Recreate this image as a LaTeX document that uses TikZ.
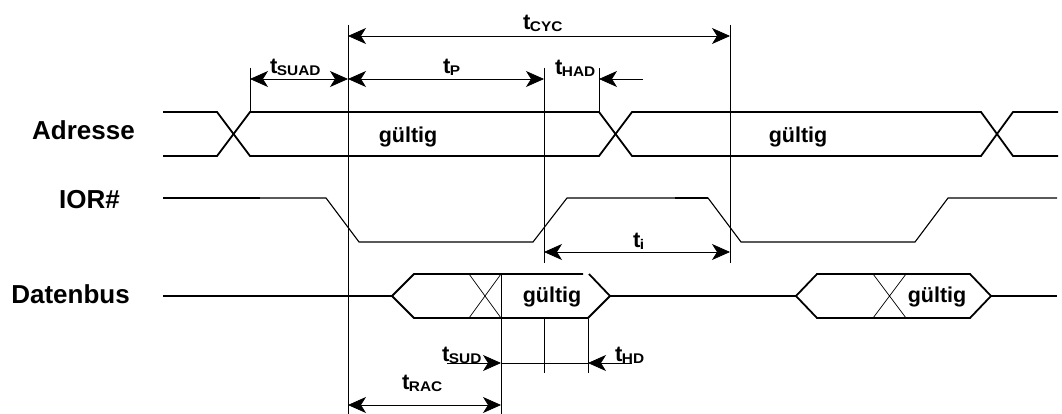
\documentclass[tikz,border=0pt]{standalone}
\usepackage{fontspec}
\setmainfont{Liberation Sans}
\usepackage{tikz}
\usetikzlibrary{arrows.meta,positioning}

\newcommand{\tsub}[1]{t\kern-0.6pt\raisebox{-2pt}{\fontsize{14}{14}\selectfont\scalebox{1.1}[1]{#1}}}

\begin{document}
\begin{tikzpicture}[x=1pt, y=-1pt]
	\tikzstyle{Bus}    = [line width=1.8pt]
	\tikzstyle{Strobe} = [line width=1.1pt]
	\tikzstyle{Thin}   = [line width=0.7pt]
	\tikzstyle{Dim}    = [line width=0.7pt, {Stealth[length=18pt, width=16pt, inset=5pt]}-{Stealth[length=18pt, width=16pt, inset=5pt]}]
	\tikzstyle{Half}   = [line width=0.7pt, -{Stealth[length=18pt, width=16pt, inset=5pt]}]
	\tikzstyle{Label}  = [anchor=base east, inner sep=0pt, font=\bfseries\fontsize{26}{30}\selectfont]
	\tikzstyle{Value}  = [anchor=base, inner sep=0pt, font=\bfseries\fontsize{21.5}{26}\selectfont]
	\tikzstyle{Time}   = [anchor=base west, inner sep=0pt, font=\bfseries\fontsize{22}{24}\selectfont]

	\useasboundingbox (0,0) rectangle (1062,414);

	% signal names
	\node (adr) at (135,140) [Label] {Adresse};
	\node (ior) at (120,208) [Label] {IOR\#};
	\node (dat) at (130,303) [Label] {Datenbus};

	% Adresse
	\draw [Bus] (163,112) -- (217,112) -- (250,156) -- (599,156) -- (632,112) -- (981,112) -- (1013,156) -- (1058,156);
	\draw [Bus] (163,156) -- (217,156) -- (250,112) -- (599,112) -- (632,156) -- (981,156) -- (1013,112) -- (1058,112);
	\node (adrA) at (408,143) [Value] {gültig};
	\node (adrB) at (798,143) [Value] {gültig};

	% IOR#
	\draw [Strobe] (163,198) -- (326,198) -- (359,242) -- (533,242) -- (567,198) -- (708,198) -- (741,242) -- (915,242) -- (948,198) -- (1057,198);
	\draw [-] (163,198) -- (260,198) [Bus];
	\draw [-] (675,198) -- (708,198) [Bus];

	% Datenbus
	\draw [Bus] (163,296) -- (392,296);
	\draw [Bus] (583,274) -- (414,274) -- (392,296) -- (414,318) -- (588,318) -- (610,296) -- (589,274);
	\draw [Bus] (610,296) -- (796,296);
	\draw [Bus] (817,274) -- (796,296) -- (817,318) -- (970,318) -- (991,296) -- (970,274) -- cycle;
	\draw [Bus] (991,296) -- (1057,296);
	\draw [Thin] (469,274) -- (501,318) (469,318) -- (501,274);
	\draw [Thin] (873,274) -- (906,318) (873,318) -- (906,274);
	\node (datA) at (552,302) [Value] {gültig};
	\node (datB) at (937,302) [Value] {gültig};

	% guide lines
	\foreach \x/\ya/\yb in {250/68/112, 348/25/414, 544/68/263, 544/319/373, 599/68/112, 730/25/263, 501/274/414, 588/319/373}
		\draw [Thin] (\x,\ya) -- (\x,\yb);

	% timing arrows
	\coordinate (cycL) at (348,36);
	\coordinate (cycR) at (730,36);
	\coordinate (suadL) at (250,79);
	\coordinate (pL) at (348,79);
	\coordinate (pR) at (544,79);
	\coordinate (hadR) at (599,79);
	\coordinate (hadE) at (643,79);
	\coordinate (iL) at (544,252);
	\coordinate (iR) at (730,252);
	\coordinate (sudS) at (447,363);
	\coordinate (sudR) at (501,363);
	\coordinate (hdL) at (588,363);
	\coordinate (hdE) at (632,363);
	\coordinate (racL) at (348,405);
	\coordinate (racR) at (501,405);

	\draw [Dim] (cycL) to (cycR);
	\draw [Dim] (suadL) to (pL);
	\draw [Dim] (pL) to (pR);
	\draw [Half] (hadE) to (hadR);
	\draw [Dim] (iL) to (iR);
	\draw [Half] (sudS) to (sudR);
	\draw [-] (sudR) to (hdL) [Thin];
	\draw [Half] (hdE) to (hdL);
	\draw [Dim] (racL) to (racR);

	\node (tCyc) at (523,30) [Time] {\tsub{CYC}};
	\node (tSuad) at (270,74) [Time] {\tsub{SUAD}};
	\node (tP) at (443,74) [Time] {\tsub{P}};
	\node (tHad) at (555,75) [Time] {\tsub{HAD}};
	\node (tI) at (633,247) [Time] {\tsub{i}};
	\node (tSud) at (442,361) [Time] {\tsub{SUD}};
	\node (tHd) at (615,361) [Time] {\tsub{HD}};
	\node (tRac) at (402,389) [Time] {\tsub{RAC}};
\end{tikzpicture}
\end{document}
